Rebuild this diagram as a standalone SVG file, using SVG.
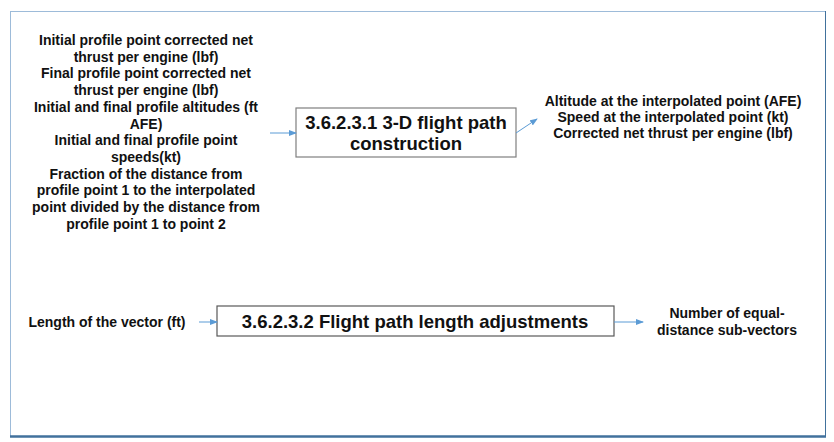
<svg xmlns="http://www.w3.org/2000/svg" width="834" height="442" viewBox="0 0 834 442">
<style>
.t{font-family:"Liberation Sans",Arial,sans-serif;font-weight:bold;font-size:14px;fill:#111;text-anchor:middle}
.b{font-family:"Liberation Sans",Arial,sans-serif;font-weight:bold;font-size:18.5px;fill:#111;text-anchor:middle}
.box{fill:#fff;stroke:#7f7f7f;stroke-width:1.2}
.c{stroke:#5b9bd5;stroke-width:1;fill:none;marker-end:url(#ah)}
</style>
<defs>
<marker id="ah" markerWidth="8" markerHeight="6" refX="7" refY="3" orient="auto" markerUnits="userSpaceOnUse">
<path d="M0,0 L8,3 L0,6 z" fill="#5b9bd5"/>
</marker>
</defs>
<rect x="0" y="0" width="834" height="442" fill="#fff"/>
<g id="frame">
<line x1="10.5" y1="11" x2="10.5" y2="436" stroke="#9dbbd9" stroke-width="1"/>
<line x1="10" y1="11.5" x2="826" y2="11.5" stroke="#9dbbd9" stroke-width="1"/>
<line x1="825.5" y1="11" x2="825.5" y2="437" stroke="#41719c" stroke-width="1"/>
<line x1="10" y1="436.5" x2="826" y2="436.5" stroke="#41719c" stroke-width="2.5"/>
</g>
<g id="inputs1">
<text class="t" x="146" y="45">Initial profile point corrected net</text>
<text class="t" x="146" y="61.7">thrust per engine (lbf)</text>
<text class="t" x="146" y="78.4">Final profile point corrected net</text>
<text class="t" x="146" y="95.1">thrust per engine (lbf)</text>
<text class="t" x="146" y="111.8">Initial and final profile altitudes (ft</text>
<text class="t" x="146" y="128.5">AFE)</text>
<text class="t" x="146" y="145.2">Initial and final profile point</text>
<text class="t" x="146" y="161.9">speeds(kt)</text>
<text class="t" x="146" y="178.6">Fraction of the distance from</text>
<text class="t" x="146" y="195.3">profile point 1 to the interpolated</text>
<text class="t" x="146" y="212">point divided by the distance from</text>
<text class="t" x="146" y="228.7">profile point 1 to point 2</text>
</g>
<g id="node1">
<rect class="box" x="296" y="108" width="220" height="49"/>
<text class="b" x="406" y="129">3.6.2.3.1 3-D flight path</text>
<text class="b" x="406" y="150">construction</text>
</g>
<g id="outputs1">
<text class="t" x="673" y="106">Altitude at the interpolated point (AFE)</text>
<text class="t" x="673" y="122">Speed at the interpolated point (kt)</text>
<text class="t" x="673" y="138">Corrected net thrust per engine (lbf)</text>
</g>
<g id="input2">
<text class="t" x="107" y="327">Length of the vector (ft)</text>
</g>
<g id="node2">
<rect class="box" x="217" y="306" width="397" height="30" stroke-width="1.5" style="stroke:#595959"/>
<text class="b" x="415" y="328">3.6.2.3.2 Flight path length adjustments</text>
</g>
<g id="output2">
<text class="t" x="727" y="318">Number of equal-</text>
<text class="t" x="727" y="335">distance sub-vectors</text>
</g>
<g id="connectors">
<line class="c" x1="270" y1="133" x2="296" y2="133"/>
<line class="c" x1="516" y1="133" x2="537" y2="119"/>
<line class="c" x1="199" y1="322" x2="217" y2="322"/>
<line class="c" x1="614" y1="322" x2="643" y2="322"/>
</g>
</svg>
